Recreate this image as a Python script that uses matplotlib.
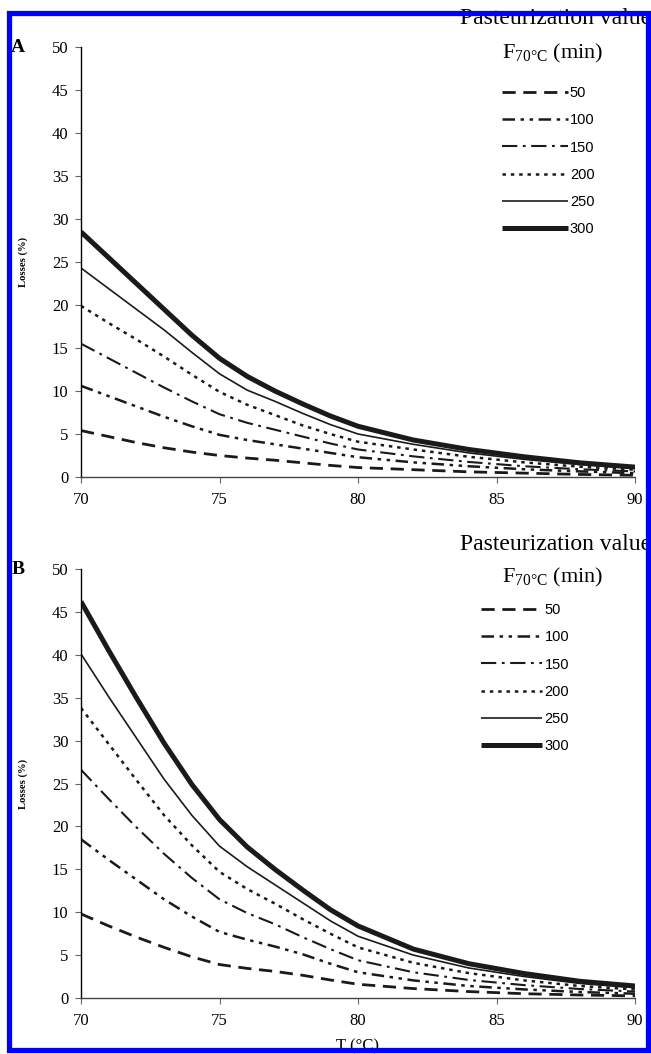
import matplotlib
matplotlib.use("Agg")
import matplotlib.pyplot as plt
from matplotlib.patches import Rectangle

plt.rcParams['lines.scale_dashes'] = False
plt.rcParams['mathtext.fontset'] = 'custom'
plt.rcParams['mathtext.rm'] = 'Liberation Serif'

W, H = 651, 1054

# temperatures (°C) and pasteurization values F70°C (min)
temps = [70, 71, 72, 73, 74, 75, 76, 77, 78, 79, 80, 82, 84, 86, 88, 90]
f_values = ['50', '100', '150', '200', '250', '300']

# panel A losses (%)
a_50 = [5.4, 4.7, 4.0, 3.4, 2.9, 2.5, 2.2, 1.95, 1.65, 1.35, 1.1, 0.85, 0.6, 0.45, 0.3, 0.2]
a_100 = [10.6, 9.4, 8.2, 7.0, 5.9, 4.9, 4.3, 3.8, 3.3, 2.8, 2.3, 1.7, 1.25, 0.9, 0.65, 0.45]
a_150 = [15.5, 13.8, 12.1, 10.4, 8.8, 7.3, 6.3, 5.5, 4.7, 3.9, 3.2, 2.4, 1.75, 1.25, 0.9, 0.65]
a_200 = [19.9, 17.9, 16.0, 14.0, 11.9, 9.9, 8.4, 7.2, 6.0, 5.0, 4.1, 3.2, 2.35, 1.7, 1.2, 0.85]
a_250 = [24.3, 21.9, 19.5, 17.1, 14.5, 12.0, 10.1, 8.8, 7.4, 6.1, 5.0, 3.8, 2.8, 2.05, 1.45, 1.0]
a_300 = [28.5, 25.5, 22.5, 19.5, 16.5, 13.8, 11.7, 10.0, 8.5, 7.1, 5.9, 4.3, 3.2, 2.35, 1.65, 1.15]

# panel B losses (%)
b_50 = [9.8, 8.4, 7.1, 5.9, 4.8, 3.9, 3.45, 3.1, 2.65, 2.1, 1.6, 1.1, 0.75, 0.5, 0.35, 0.25]
b_100 = [18.5, 16.1, 13.8, 11.5, 9.5, 7.7, 6.8, 6.0, 5.1, 4.0, 3.0, 2.05, 1.4, 1.0, 0.7, 0.5]
b_150 = [26.6, 23.2, 19.9, 16.8, 14.0, 11.5, 9.9, 8.6, 7.1, 5.7, 4.4, 3.0, 2.1, 1.5, 1.05, 0.75]
b_200 = [33.8, 29.6, 25.4, 21.3, 17.8, 14.7, 12.7, 11.0, 9.2, 7.5, 5.9, 4.1, 2.9, 2.05, 1.4, 1.0]
b_250 = [40.1, 35.1, 30.3, 25.5, 21.3, 17.7, 15.3, 13.2, 11.1, 9.0, 7.2, 5.0, 3.5, 2.5, 1.7, 1.2]
b_300 = [46.2, 40.5, 35.0, 29.7, 24.9, 20.8, 17.6, 15.0, 12.6, 10.3, 8.4, 5.7, 4.0, 2.85, 1.95, 1.4]

# line styles per F value
estilos = [
    dict(lw=2.0, ls=(0, (9.5, 5.5))),
    dict(lw=1.8, ls=(0, (9, 4, 2.5, 4, 2.5, 4))),
    dict(lw=1.5, ls=(0, (11, 4, 2, 4))),
    dict(lw=1.8, ls=(0, (2.5, 3.5))),
    dict(lw=1.2, ls='-'),
    dict(lw=3.6, ls='-'),
]
color = '#1a1a1a'


def px(x, y):
    return x / W, 1 - y / H


fig = plt.figure(figsize=(W / 100, H / 100), dpi=100)

serif = 'Liberation Serif'
sans = 'Liberation Sans'


def panel(top, bottom, series, letter, leg_x, leg_y, title_y, f_y, hlen):
    l, b = px(81, bottom)
    r, t = px(635, top)
    ax = fig.add_axes([l, b, r - l, t - b])
    handles = []
    for vals, st in zip(series, estilos):
        h, = ax.plot(temps, vals, color=color, lw=st['lw'], ls=st['ls'],
                     solid_capstyle='butt', dash_capstyle='butt',
                     solid_joinstyle='round')
        handles.append(h)
    ax.set_xlim(70, 90)
    ax.set_ylim(0, 50)
    ax.set_xticks([70, 75, 80, 85, 90])
    ax.set_yticks(range(0, 51, 5))
    for s in ['top', 'right']:
        ax.spines[s].set_visible(False)
    ax.spines['left'].set_linewidth(1.0)
    ax.spines['bottom'].set_linewidth(1.0)
    ax.spines['bottom'].set_color('#444444')
    ax.tick_params(axis='both', direction='out', length=4.5, width=0.8,
                   color='#666666', labelsize=12, pad=4.5)
    ax.tick_params(axis='x', pad=6.5)
    for lab in ax.get_xticklabels() + ax.get_yticklabels():
        lab.set_fontfamily(serif)
    ax.set_ylabel('Losses (%)', fontsize=7.7, fontweight='bold',
                  fontfamily=serif, labelpad=17)
    ax.patch.set_alpha(0)

    fig.text(*px(18, top), letter, fontsize=14, fontweight='bold',
             fontfamily=serif, ha='center', va='center')
    fig.text(*px(460, title_y), 'Pasteurization value', fontsize=17,
             fontfamily=serif, ha='left', va='center')
    fig.text(*px(553, f_y), r'F$_{\mathregular{70°C}}$ (min)', fontsize=16,
             fontfamily=serif, ha='center', va='center')

    ax.legend(handles, f_values, loc='upper left',
              bbox_to_anchor=px(leg_x, leg_y), bbox_transform=fig.transFigure,
              frameon=False, borderpad=0, borderaxespad=0,
              handlelength=hlen, handletextpad=0.15, labelspacing=0.91,
              prop={'family': sans, 'size': 10.5})
    return ax


panel(47, 477, [a_50, a_100, a_150, a_200, a_250, a_300], 'A',
      502, 86, 18, 53, 4.5)
panel(569, 998, [b_50, b_100, b_150, b_200, b_250, b_300], 'B',
      481, 603, 545, 577, 4.2)

fig.text(*px(358, 1046), 'T (°C)', fontsize=12, fontfamily=serif,
         ha='center', va='center')

# blue frame
x0, y0 = px(9, 1050)
x1, y1 = px(648, 13)
fig.patches.append(Rectangle((x0, y0), x1 - x0, y1 - y0, transform=fig.transFigure,
                             fill=False, edgecolor='#0000ff', lw=3.8, zorder=10))

fig.savefig('out.png', dpi=100, facecolor='white')
